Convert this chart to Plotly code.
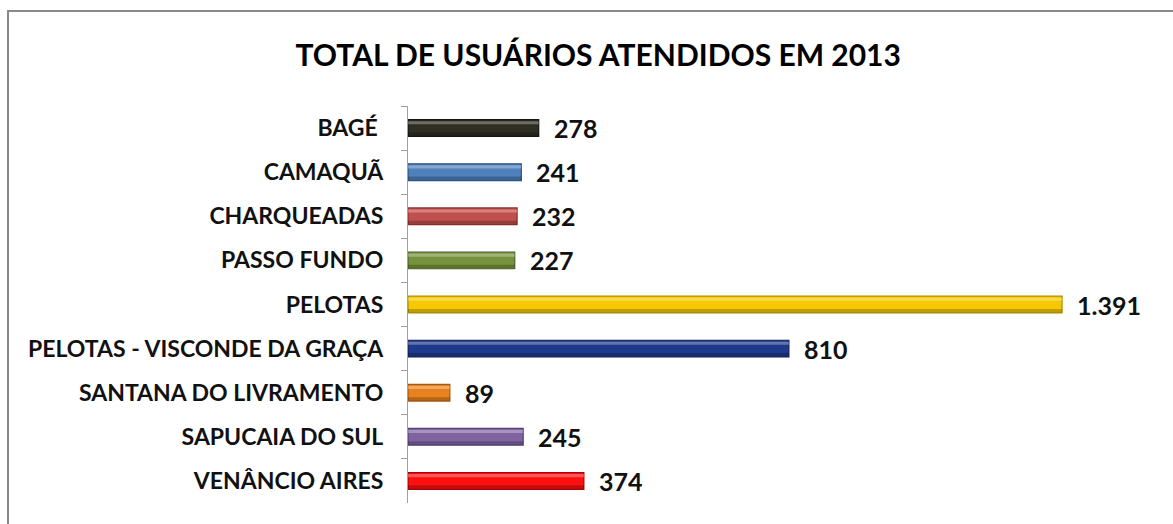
import plotly.graph_objects as go

categories = ["BAGÉ ", "CAMAQUÃ", "CHARQUEADAS", "PASSO FUNDO", "PELOTAS",
              "PELOTAS - VISCONDE DA GRAÇA", "SANTANA DO LIVRAMENTO",
              "SAPUCAIA DO SUL", "VENÂNCIO AIRES"]
values = [278, 241, 232, 227, 1391, 810, 89, 245, 374]
bar_colors = ["#2f2f24", "#4f81bd", "#c0504d", "#76923c", "#f5c800",
              "#1f3a8c", "#e8821e", "#8064a2", "#ff1010"]
edge_colors = ["#141410", "#2c5286", "#8c2f2c", "#4d6326", "#b08e00",
               "#0f1f55", "#a85810", "#55407a", "#b00000"]
title_text = "TOTAL DE USUÁRIOS ATENDIDOS EM 2013"

def fmt(v):
    return f"{v:,}".replace(",", ".")

BW = 0.38
fig = go.Figure()
# main bars
fig.add_trace(go.Bar(
    x=values, y=categories, orientation="h",
    marker=dict(color=bar_colors, line=dict(color=edge_colors, width=1.2)),
    width=BW, offset=-BW / 2, hoverinfo="x+y",
))
# bevel highlight (top)
fig.add_trace(go.Bar(
    x=values, y=categories, orientation="h",
    marker=dict(color="rgba(255,255,255,0.30)", line=dict(width=0)),
    width=0.07, offset=-BW / 2 + 0.035, hoverinfo="skip",
))
# bevel shade (bottom)
fig.add_trace(go.Bar(
    x=values, y=categories, orientation="h",
    marker=dict(color="rgba(0,0,0,0.22)", line=dict(width=0)),
    width=0.08, offset=BW / 2 - 0.09, hoverinfo="skip",
))

annotations = [
    dict(x=v, y=c, xref="x", yref="y", text=fmt(v), showarrow=False,
         xanchor="left", xshift=13,
         font=dict(family="Lato", size=25, color="#111111", weight="bold"))
    for c, v in zip(categories, values)
]
fig.update_layout(
    width=1173, height=524,
    barmode="overlay",
    paper_bgcolor="white", plot_bgcolor="white",
    margin=dict(l=408, r=23, t=106, b=21),
    showlegend=False,
    title=dict(text=f"<b>{title_text}</b>", x=0.51, xanchor="center",
               y=0.895, yanchor="middle",
               font=dict(family="Lato", size=30, color="#000000")),
    annotations=annotations,
)
fig.update_xaxes(visible=False, range=[0, 1578])
fig.update_yaxes(
    autorange="reversed", type="category",
    showline=True, linecolor="#a0a0a0", linewidth=1.2,
    ticks="outside", tickson="boundaries", ticklen=6, tickcolor="#a0a0a0",
    ticklabelstandoff=19,
    tickfont=dict(family="Lato", size=23, color="#111111", weight="bold"),
    showgrid=False,
)

fig.write_html("out.html", config={"displayModeBar": False})
# Outer chart frame (top and left edges, as in the original)
with open("out.html", "r", encoding="utf-8") as f:
    html = f.read()
html = html.replace("<body>", "<body style=\"margin:0\">"
                    "<div style=\"position:absolute;left:7px;top:10px;right:-5px;bottom:-5px;"
                    "border-left:2.5px solid #888888;border-top:2.5px solid #888888;"
                    "pointer-events:none;z-index:10\"></div>", 1)
with open("out.html", "w", encoding="utf-8") as f:
    f.write(html)
